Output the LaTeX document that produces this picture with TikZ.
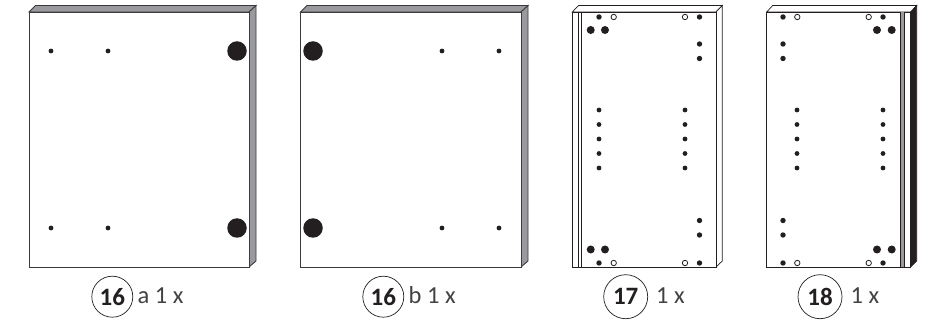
\documentclass[tikz,border=0pt]{standalone}
\usepackage{fontspec}
\setmainfont{Carlito}
\definecolor{ink}{HTML}{231F20}
\definecolor{edge}{HTML}{3C3A3B}
\definecolor{sidegray}{HTML}{9A9A9E}
\tikzset{
  panel/.style={draw=edge,line width=0.9pt,fill=white,line join=miter},
  thinpanel/.style={draw=ink,line width=0.8pt,fill=white},
  bevel/.style={draw=edge,line width=0.9pt,fill=sidegray},
  bevelwhite/.style={draw=ink,line width=0.7pt,fill=white},
  bevelblack/.style={draw=ink,line width=0.7pt,fill=ink},
  ruleline/.style={draw=ink,line width=0.6pt},
  hole/.style={circle,fill=ink,inner sep=0pt,minimum size=#1},
  openhole/.style={circle,draw=ink,line width=0.8pt,fill=white,inner sep=0pt,minimum size=5.4pt},
  partcircle/.style={circle,draw=ink,line width=0.7pt,inner sep=0pt,minimum size=#1,font=\fontsize{25}{25}\selectfont\bfseries,text=ink},
  qty/.style={anchor=west,inner sep=0pt,font=\fontsize{24.5}{25}\selectfont,text=ink!85!white},
}
\newcommand{\solidhole}[2]{\node[hole=5.4pt] at (#1,#2) {};}
\newcommand{\tinyhole}[2]{\node[hole=4.8pt] at (#1,#2) {};}
\newcommand{\bighole}[2]{\node[hole=8pt] at (#1,#2) {};}
\begin{document}
\begin{tikzpicture}[x=1pt,y=-1pt]
\useasboundingbox (0,0) rectangle (931,320);
\fill[white] (0,0) rectangle (931,320);
% 16a
\draw[bevel] (29,12) -- (35.5,5.5) -- (256,5.5) -- (249,12) -- cycle;
\draw[bevel] (249,12) -- (256,5.5) -- (256,261) -- (249,267) -- cycle;
\draw[panel] (29,12) rectangle (249,267);
\foreach \x/\y in {51/51,108/51,51/228,108/228} {\tinyhole{\x}{\y}}
\node[hole=19.5pt] at (237,51) {};
\node[hole=19.5pt] at (237,228) {};
% 16b
\draw[bevel] (300.5,12) -- (307,5.5) -- (528,5.5) -- (521,12) -- cycle;
\draw[bevel] (521,12) -- (528,5.5) -- (528,261) -- (521,267) -- cycle;
\draw[panel] (300.5,12) rectangle (521,267);
\foreach \x/\y in {442/51,499/51,442/228,499/228} {\tinyhole{\x}{\y}}
\node[hole=19.5pt] at (313,51) {};
\node[hole=19.5pt] at (313,228) {};
% 17
\draw[bevelwhite] (572.3,12) -- (578.5,5.5) -- (722.3,5.5) -- (716,12) -- cycle;
\draw[bevelwhite] (716,12) -- (722.3,5.5) -- (722.3,261) -- (716,267) -- cycle;
\draw[thinpanel] (572.3,12) rectangle (716,267);
\draw[ruleline] (578.5,12) -- (578.5,267);
\draw[ruleline] (581.7,12) -- (581.7,267);
\foreach \y in {17,263} {
  \solidhole{599}{\y}
  \node[openhole] at (613.7,\y) {};
  \node[openhole] at (685,\y) {};
  \solidhole{699.5}{\y}
}
\foreach \y in {30,249.5} {\bighole{590.7}{\y}\bighole{605}{\y}}
\foreach \y in {44,58.5,220.5,235} {\solidhole{699.5}{\y}}
\foreach \y in {110,124.5,139,153.5,168} {\tinyhole{599}{\y}\tinyhole{685}{\y}}
% 18
\draw[bevelwhite] (766.7,12) -- (772.7,5.5) -- (916.7,5.5) -- (910.7,12) -- cycle;
\draw[bevelblack] (910.7,12) -- (916.7,5.5) -- (916.7,261) -- (910.7,267) -- cycle;
\draw[thinpanel] (766.7,12) rectangle (910.7,267);
\fill[sidegray] (900.3,12) rectangle (904,267);
\draw[ruleline] (900.3,12) -- (900.3,267);
\draw[ruleline] (904,12) -- (904,267);
\foreach \y in {17,263} {
  \solidhole{783}{\y}
  \node[openhole] at (797.3,\y) {};
  \node[openhole] at (868.7,\y) {};
  \solidhole{883}{\y}
}
\foreach \y in {30,249.5} {\bighole{877}{\y}\bighole{891.7}{\y}}
\foreach \y in {44,58.5,220.5,235} {\solidhole{783}{\y}}
\foreach \y in {110,124.5,139,153.5,168} {\tinyhole{797}{\y}\tinyhole{883}{\y}}
% labels
\node[partcircle=41pt] (c16a) at (112.3,296.7) {16};
\node[qty] (q16a) at (137.5,295.5) {a 1 x};
\node[partcircle=41pt] (c16b) at (383.3,296.7) {16};
\node[qty] (q16b) at (408.5,295.5) {b 1 x};
\node[partcircle=44pt] (c17) at (625.7,296.7) {17};
\node[qty] (q17) at (656,295.5) {1 x};
\node[partcircle=44pt] (c18) at (820,296.7) {18};
\node[qty] (q18) at (850.5,295.5) {1 x};
\end{tikzpicture}
\end{document}
